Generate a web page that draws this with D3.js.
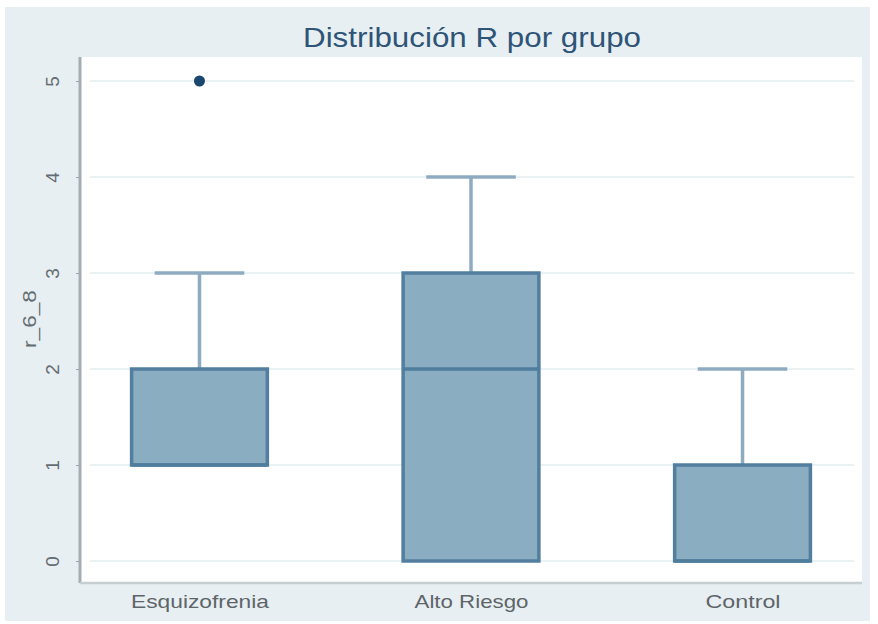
<!DOCTYPE html>
<html>
<head>
<meta charset="utf-8">
<script src="https://cdn.jsdelivr.net/npm/d3@7"></script>
<style>
  html, body { margin: 0; padding: 0; background: #fff; }
  svg { display: block; font-family: "Liberation Sans", Arial, sans-serif; }
</style>
</head>
<body>
<div id="chart"></div>
<script>
const groups = ["Esquizofrenia", "Alto Riesgo", "Control"];
const lowerWhisker = [1, 0, 0];
const q1 = [1, 0, 0];
const median = [1, 2, 0];
const q3 = [2, 3, 1];
const upperWhisker = [3, 4, 2];
const outliers = [[5], [], []];
const yTicks = [0, 1, 2, 3, 4, 5];
const title = "Distribución R por grupo";
const yTitle = "r_6_8";

const width = 878, height = 624;
const plot = { left: 80, right: 862, top: 57, bottom: 583 };

const svg = d3.select("#chart").append("svg")
  .attr("width", width).attr("height", height);

// outer graph region
svg.append("rect")
  .attr("x", 5).attr("y", 7).attr("width", 865).attr("height", 614)
  .attr("fill", "#e8eff2");

svg.append("rect")
  .attr("x", plot.left).attr("y", plot.top)
  .attr("width", plot.right - plot.left).attr("height", plot.bottom - plot.top)
  .attr("fill", "#fff");

const x = d3.scalePoint().domain(groups).range([plot.left, plot.right]).padding(0.44);
const y = d3.scaleLinear().domain([0, 5]).range([561, 81]);

const boxW = x.step() * 0.5;
const capW = x.step() * 0.33;

// grid
svg.append("g").selectAll("line").data(yTicks).join("line")
  .attr("x1", plot.left + 10).attr("x2", plot.right - 8)
  .attr("y1", d => y(d)).attr("y2", d => y(d))
  .attr("stroke", "#eaf1f3").attr("stroke-width", 2);

// axes
const gy = svg.append("g").attr("transform", `translate(${plot.left},0)`)
  .call(d3.axisLeft(y).tickValues(yTicks).tickSize(4).tickFormat(d3.format("d")));
gy.select(".domain").remove();
gy.selectAll(".tick line").attr("stroke", "#9aa5ab");
gy.selectAll(".tick text")
  .attr("fill", "#646d72").attr("font-size", 19)
  .attr("transform", "rotate(-90)")
  .attr("x", 0).attr("y", -28).attr("dy", null)
  .attr("text-anchor", "middle").attr("dominant-baseline", "central");

svg.append("line")
  .attr("x1", plot.left).attr("x2", plot.left)
  .attr("y1", plot.top).attr("y2", plot.bottom)
  .attr("stroke", "#a3adb3").attr("stroke-width", 3);
svg.append("line")
  .attr("x1", plot.left).attr("x2", plot.right)
  .attr("y1", plot.bottom).attr("y2", plot.bottom)
  .attr("stroke", "#c6ced2").attr("stroke-width", 2.5);

const labelWidth = { "Esquizofrenia": 138, "Alto Riesgo": 114, "Control": 75 };
const gx = svg.append("g").attr("transform", `translate(0,${plot.bottom})`)
  .call(d3.axisBottom(x).tickSize(0).tickPadding(12));
gx.select(".domain").remove();
gx.selectAll(".tick text").attr("fill", "#5d6569").attr("font-size", 19)
  .attr("textLength", d => labelWidth[d]).attr("lengthAdjust", "spacingAndGlyphs");

// titles
svg.append("text")
  .attr("x", (plot.left + plot.right) / 2 + 1).attr("y", 37)
  .attr("text-anchor", "middle").attr("dominant-baseline", "central")
  .attr("fill", "#2e5477").attr("font-size", 28)
  .attr("textLength", 338).attr("lengthAdjust", "spacingAndGlyphs")
  .text(title);

svg.append("text")
  .attr("transform", `translate(29,${(plot.top + plot.bottom) / 2 - 1}) rotate(-90)`)
  .attr("text-anchor", "middle").attr("dominant-baseline", "central")
  .attr("fill", "#646d72").attr("font-size", 19)
  .attr("textLength", 58).attr("lengthAdjust", "spacingAndGlyphs")
  .text(yTitle);

// boxes
const boxes = svg.append("g").selectAll("g").data(groups).join("g")
  .attr("transform", d => `translate(${x(d)},0)`);

boxes.append("line")
  .attr("y1", (d, i) => y(q3[i])).attr("y2", (d, i) => y(upperWhisker[i]))
  .attr("stroke", "#8fabc1").attr("stroke-width", 3.5);
boxes.append("line")
  .attr("x1", -capW / 2).attr("x2", capW / 2)
  .attr("y1", (d, i) => y(upperWhisker[i])).attr("y2", (d, i) => y(upperWhisker[i]))
  .attr("stroke", "#8fabc1").attr("stroke-width", 3.5);
boxes.append("line")
  .attr("y1", (d, i) => y(q1[i])).attr("y2", (d, i) => y(lowerWhisker[i]))
  .attr("stroke", "#8fabc1").attr("stroke-width", 3.5);

boxes.append("rect")
  .attr("x", -boxW / 2).attr("width", boxW)
  .attr("y", (d, i) => y(q3[i]))
  .attr("height", (d, i) => y(q1[i]) - y(q3[i]))
  .attr("fill", "#8badc1").attr("stroke", "#527f9f").attr("stroke-width", 3.5);

boxes.append("line")
  .attr("x1", -boxW / 2).attr("x2", boxW / 2)
  .attr("y1", (d, i) => y(median[i])).attr("y2", (d, i) => y(median[i]))
  .attr("stroke", "#4f7d9d").attr("stroke-width", 3.5);

boxes.selectAll("circle").data((d, i) => outliers[i]).join("circle")
  .attr("cy", v => y(v)).attr("r", 5.5)
  .attr("fill", "#1a476f");
</script>
</body>
</html>
